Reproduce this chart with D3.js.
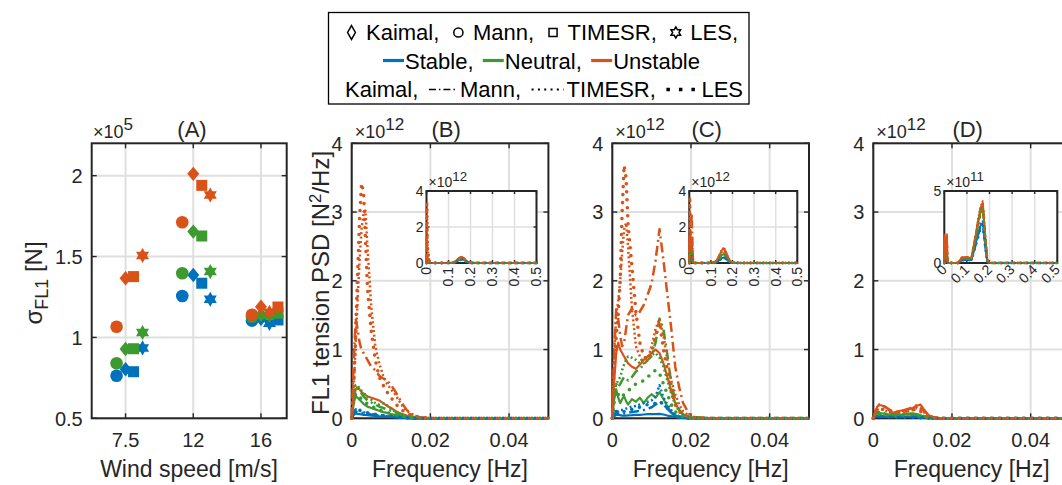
<!DOCTYPE html>
<html>
<head>
<meta charset="utf-8">
<script src="https://cdn.jsdelivr.net/npm/d3@7"></script>
<style>
  body { margin: 0; background: #fff; }
  text { font-family: "Liberation Sans", Arial, Helvetica, sans-serif; fill: #262626; }
</style>
</head>
<body>
<svg id="chart" width="1062" height="485"></svg>
<script>
// ---------- data ----------
const models = ["Kaimal", "Mann", "TIMESR", "LES"];
const stabilities = ["Stable", "Neutral", "Unstable"];
const windSpeeds = ["7.5", "12", "16"];

// std of FL1 tension [x1e5 N], rows = wind speed, cols = model
const sigmaStable   = [[0.803, 0.763, 0.788, 0.935], [1.386, 1.256, 1.335, 1.236], [1.115, 1.104, 1.108, 1.087]];
const sigmaNeutral  = [[0.929, 0.840, 0.930, 1.030], [1.654, 1.397, 1.627, 1.407], [1.140, 1.128, 1.150, 1.135]];
const sigmaUnstable = [[1.366, 1.066, 1.376, 1.506], [2.011, 1.712, 1.940, 1.880], [1.190, 1.140, 1.188, 1.155]];

// PSD frequency grids [Hz]
const freqLow  = [0, 0.0005, 0.001, 0.0015, 0.002, 0.0025, 0.003, 0.0035, 0.004, 0.005, 0.006, 0.007, 0.008, 0.009,
                  0.010, 0.011, 0.012, 0.013, 0.014, 0.015, 0.016, 0.017, 0.018, 0.020, 0.025, 0.030, 0.040, 0.050];
const freqHigh = [0.06, 0.08, 0.10, 0.12, 0.13, 0.14, 0.15, 0.16, 0.17, 0.18, 0.19, 0.20, 0.25, 0.30, 0.40, 0.50];

// PSD [x1e12 N^2/Hz] on freqLow, rows = Kaimal, Mann, TIMESR, LES
const psd75Stable = [
  [0, 0.05, 0.07, 0.065, 0.06, 0.055, 0.05, 0.048, 0.045, 0.04, 0.035, 0.03, 0.025, 0.02, 0.018, 0.015, 0.01, 0.008, 0.005, 0.003, 0, 0, 0, 0, 0, 0, 0, 0],
  [0, 0.07, 0.1, 0.09, 0.085, 0.08, 0.075, 0.07, 0.065, 0.055, 0.048, 0.04, 0.035, 0.03, 0.025, 0.02, 0.015, 0.01, 0.006, 0.003, 0, 0, 0, 0, 0, 0, 0, 0],
  [0, 0.09, 0.13, 0.12, 0.11, 0.1, 0.09, 0.08, 0.07, 0.06, 0.05, 0.045, 0.04, 0.03, 0.025, 0.02, 0.015, 0.01, 0.006, 0.003, 0, 0, 0, 0, 0, 0, 0, 0],
  [0, 0.1, 0.15, 0.14, 0.12, 0.11, 0.1, 0.09, 0.08, 0.07, 0.06, 0.05, 0.04, 0.035, 0.03, 0.02, 0.015, 0.01, 0.006, 0.003, 0, 0, 0, 0, 0, 0, 0, 0]
];
const psd75Neutral = [
  [0, 0.22, 0.32, 0.3, 0.27, 0.24, 0.21, 0.19, 0.17, 0.15, 0.13, 0.11, 0.09, 0.08, 0.06, 0.05, 0.04, 0.03, 0.02, 0.01, 0.005, 0, 0, 0, 0, 0, 0, 0],
  [0, 0.3, 0.46, 0.44, 0.4, 0.36, 0.32, 0.29, 0.26, 0.23, 0.2, 0.17, 0.15, 0.13, 0.11, 0.09, 0.07, 0.05, 0.03, 0.02, 0.01, 0.005, 0, 0, 0, 0, 0, 0],
  [0, 0.32, 0.48, 0.47, 0.44, 0.4, 0.37, 0.34, 0.31, 0.27, 0.22, 0.2, 0.22, 0.19, 0.14, 0.1, 0.07, 0.05, 0.03, 0.02, 0.01, 0.005, 0, 0, 0, 0, 0, 0],
  [0, 0.25, 0.36, 0.34, 0.31, 0.28, 0.26, 0.23, 0.21, 0.18, 0.15, 0.12, 0.1, 0.08, 0.07, 0.05, 0.04, 0.03, 0.02, 0.01, 0.005, 0, 0, 0, 0, 0, 0, 0]
];
const psd75Unstable = [
  [0, 0.25, 0.42, 0.45, 0.42, 0.38, 0.36, 0.34, 0.32, 0.3, 0.28, 0.26, 0.22, 0.18, 0.15, 0.11, 0.08, 0.06, 0.04, 0.03, 0.02, 0.01, 0.005, 0, 0, 0, 0, 0],
  [0, 0.8, 1.45, 1.3, 1.1, 1.0, 0.95, 0.9, 0.85, 0.75, 0.7, 0.62, 0.58, 0.55, 0.48, 0.4, 0.3, 0.2, 0.12, 0.07, 0.04, 0.02, 0.01, 0, 0, 0, 0, 0],
  [0, 0.4, 1.1, 1.7, 2.3, 2.75, 2.98, 3.02, 2.5, 1.6, 1.05, 0.8, 0.62, 0.5, 0.42, 0.35, 0.26, 0.17, 0.11, 0.07, 0.04, 0.02, 0.01, 0, 0, 0, 0, 0],
  [0, 0.45, 1.2, 2.1, 2.9, 3.42, 3.3, 2.6, 1.9, 1.25, 0.85, 0.6, 0.48, 0.38, 0.3, 0.22, 0.16, 0.11, 0.07, 0.05, 0.03, 0.02, 0.01, 0, 0, 0, 0, 0]
];
const psd12Stable = [
  [0, 0.03, 0.05, 0.05, 0.045, 0.04, 0.04, 0.04, 0.042, 0.045, 0.05, 0.05, 0.055, 0.06, 0.06, 0.062, 0.065, 0.055, 0.04, 0.03, 0.02, 0.01, 0.005, 0, 0, 0, 0, 0],
  [0, 0.05, 0.08, 0.07, 0.065, 0.065, 0.07, 0.075, 0.08, 0.09, 0.1, 0.11, 0.12, 0.14, 0.16, 0.2, 0.25, 0.2, 0.14, 0.08, 0.04, 0.02, 0.01, 0, 0, 0, 0, 0],
  [0, 0.08, 0.1, 0.1, 0.12, 0.12, 0.13, 0.14, 0.15, 0.17, 0.18, 0.2, 0.22, 0.24, 0.26, 0.32, 0.48, 0.3, 0.2, 0.12, 0.06, 0.03, 0.01, 0, 0, 0, 0, 0],
  [0, 0.06, 0.1, 0.09, 0.09, 0.1, 0.1, 0.11, 0.12, 0.13, 0.15, 0.16, 0.18, 0.2, 0.2, 0.22, 0.25, 0.2, 0.15, 0.08, 0.04, 0.02, 0.01, 0, 0, 0, 0, 0]
];
const psd12Neutral = [
  [0, 0.3, 0.42, 0.3, 0.22, 0.28, 0.32, 0.25, 0.2, 0.28, 0.24, 0.3, 0.22, 0.3, 0.35, 0.3, 0.38, 0.28, 0.17, 0.09, 0.04, 0.02, 0.01, 0, 0, 0, 0, 0],
  [0, 0.3, 0.5, 0.45, 0.5, 0.55, 0.6, 0.58, 0.55, 0.6, 0.68, 0.72, 0.78, 0.85, 0.9, 1.1, 1.45, 1.3, 0.92, 0.5, 0.27, 0.12, 0.05, 0.01, 0, 0, 0, 0],
  [0, 0.35, 0.5, 0.55, 0.6, 0.7, 0.78, 0.85, 0.9, 0.88, 0.85, 0.8, 0.88, 0.9, 0.92, 0.95, 0.88, 0.75, 0.55, 0.35, 0.2, 0.1, 0.05, 0.01, 0, 0, 0, 0],
  [0, 0.25, 0.4, 0.35, 0.3, 0.32, 0.35, 0.38, 0.4, 0.45, 0.5, 0.52, 0.55, 0.6, 0.65, 0.7, 0.65, 0.5, 0.35, 0.2, 0.1, 0.05, 0.02, 0, 0, 0, 0, 0]
];
const psd12Unstable = [
  [0, 0.55, 0.95, 1.1, 1.0, 0.95, 0.9, 0.85, 0.8, 0.75, 0.72, 0.78, 0.85, 0.9, 0.95, 1.0, 0.95, 0.8, 0.6, 0.4, 0.22, 0.12, 0.06, 0.01, 0, 0, 0, 0],
  [0, 1.0, 1.6, 1.45, 1.2, 1.05, 1.1, 1.3, 1.5, 1.6, 1.5, 1.55, 1.65, 1.8, 1.96, 2.3, 2.75, 2.3, 1.8, 1.3, 0.75, 0.45, 0.22, 0.02, 0, 0, 0, 0],
  [0, 0.9, 1.5, 1.7, 2.0, 2.4, 2.75, 2.84, 2.5, 1.6, 1.05, 0.9, 0.8, 0.85, 1.05, 1.3, 1.45, 1.2, 0.85, 0.55, 0.35, 0.2, 0.1, 0.02, 0, 0, 0, 0],
  [0, 0.8, 1.2, 1.5, 2.0, 3.0, 3.68, 3.5, 2.83, 2.2, 1.55, 1.1, 0.9, 0.85, 0.95, 1.2, 1.4, 1.0, 0.7, 0.4, 0.2, 0.1, 0.05, 0.01, 0, 0, 0, 0]
];
const psd16Stable = [
  [0, 0.02, 0.03, 0.03, 0.03, 0.03, 0.03, 0.025, 0.025, 0.02, 0.02, 0.02, 0.02, 0.02, 0.02, 0.02, 0.015, 0.01, 0.005, 0, 0, 0, 0, 0, 0, 0, 0, 0],
  [0, 0.025, 0.035, 0.035, 0.03, 0.03, 0.03, 0.03, 0.025, 0.025, 0.02, 0.02, 0.02, 0.025, 0.025, 0.02, 0.015, 0.01, 0.005, 0, 0, 0, 0, 0, 0, 0, 0, 0],
  [0, 0.02, 0.03, 0.03, 0.03, 0.025, 0.025, 0.025, 0.02, 0.02, 0.02, 0.02, 0.02, 0.02, 0.02, 0.015, 0.01, 0.008, 0.004, 0, 0, 0, 0, 0, 0, 0, 0, 0],
  [0, 0.02, 0.025, 0.025, 0.025, 0.02, 0.02, 0.02, 0.02, 0.02, 0.015, 0.015, 0.015, 0.015, 0.015, 0.012, 0.01, 0.006, 0.003, 0, 0, 0, 0, 0, 0, 0, 0, 0]
];
const psd16Neutral = [
  [0, 0.05, 0.08, 0.08, 0.07, 0.07, 0.06, 0.06, 0.05, 0.05, 0.05, 0.05, 0.06, 0.06, 0.06, 0.05, 0.04, 0.03, 0.02, 0.01, 0, 0, 0, 0, 0, 0, 0, 0],
  [0, 0.06, 0.09, 0.09, 0.08, 0.08, 0.07, 0.07, 0.06, 0.06, 0.06, 0.06, 0.07, 0.07, 0.07, 0.06, 0.05, 0.03, 0.02, 0.01, 0, 0, 0, 0, 0, 0, 0, 0],
  [0, 0.05, 0.07, 0.07, 0.07, 0.06, 0.06, 0.05, 0.05, 0.05, 0.05, 0.05, 0.05, 0.06, 0.05, 0.05, 0.04, 0.03, 0.02, 0.01, 0, 0, 0, 0, 0, 0, 0, 0],
  [0, 0.04, 0.06, 0.06, 0.06, 0.05, 0.05, 0.05, 0.04, 0.04, 0.04, 0.04, 0.05, 0.05, 0.05, 0.04, 0.03, 0.02, 0.01, 0.005, 0, 0, 0, 0, 0, 0, 0, 0]
];
const psd16Unstable = [
  [0, 0.08, 0.17, 0.19, 0.19, 0.18, 0.16, 0.15, 0.12, 0.08, 0.1, 0.11, 0.12, 0.13, 0.15, 0.18, 0.2, 0.12, 0.05, 0.02, 0.01, 0, 0, 0, 0, 0, 0, 0],
  [0, 0.1, 0.18, 0.2, 0.19, 0.18, 0.17, 0.15, 0.13, 0.1, 0.09, 0.1, 0.12, 0.14, 0.16, 0.19, 0.15, 0.1, 0.05, 0.02, 0.01, 0, 0, 0, 0, 0, 0, 0],
  [0, 0.07, 0.12, 0.14, 0.13, 0.12, 0.11, 0.1, 0.09, 0.08, 0.07, 0.08, 0.1, 0.1, 0.12, 0.15, 0.12, 0.08, 0.04, 0.02, 0.01, 0, 0, 0, 0, 0, 0, 0],
  [0, 0.08, 0.13, 0.15, 0.14, 0.13, 0.12, 0.11, 0.1, 0.09, 0.08, 0.09, 0.1, 0.11, 0.12, 0.14, 0.1, 0.06, 0.03, 0.01, 0, 0, 0, 0, 0, 0, 0, 0]
];

// PSD [x1e12 N^2/Hz] on freqHigh (wave band), rows = Kaimal, Mann, TIMESR, LES
const hf75Stable = [
  [0, 0, 0, 0.01, 0.05, 0.12, 0.19, 0.22, 0.18, 0.09, 0.03, 0, 0, 0, 0, 0],
  [0, 0, 0, 0.01, 0.05, 0.11, 0.18, 0.21, 0.17, 0.08, 0.03, 0, 0, 0, 0, 0],
  [0, 0, 0, 0.01, 0.05, 0.12, 0.2, 0.23, 0.18, 0.09, 0.03, 0, 0, 0, 0, 0],
  [0, 0, 0, 0.01, 0.04, 0.1, 0.17, 0.2, 0.16, 0.08, 0.02, 0, 0, 0, 0, 0]
];
const hf75Neutral = [
  [0, 0, 0, 0.01, 0.06, 0.14, 0.22, 0.26, 0.21, 0.1, 0.03, 0.01, 0, 0, 0, 0],
  [0, 0, 0, 0.01, 0.05, 0.13, 0.21, 0.25, 0.2, 0.1, 0.03, 0.01, 0, 0, 0, 0],
  [0, 0, 0, 0.01, 0.06, 0.14, 0.23, 0.27, 0.21, 0.1, 0.03, 0.01, 0, 0, 0, 0],
  [0, 0, 0, 0.01, 0.05, 0.12, 0.2, 0.24, 0.19, 0.09, 0.03, 0, 0, 0, 0, 0]
];
const hf75Unstable = [
  [0, 0, 0.01, 0.02, 0.08, 0.2, 0.3, 0.35, 0.28, 0.14, 0.05, 0.01, 0, 0, 0, 0],
  [0, 0, 0.01, 0.02, 0.07, 0.18, 0.28, 0.32, 0.26, 0.12, 0.04, 0.01, 0, 0, 0, 0],
  [0, 0, 0.01, 0.02, 0.08, 0.19, 0.29, 0.33, 0.27, 0.13, 0.05, 0.01, 0, 0, 0, 0],
  [0, 0, 0.01, 0.02, 0.06, 0.16, 0.25, 0.3, 0.24, 0.11, 0.04, 0.01, 0, 0, 0, 0]
];
const hf12Stable = [
  [0, 0, 0, 0.02, 0.08, 0.18, 0.27, 0.3, 0.24, 0.11, 0.04, 0, 0, 0, 0, 0],
  [0, 0, 0, 0.02, 0.08, 0.17, 0.26, 0.29, 0.23, 0.1, 0.03, 0, 0, 0, 0, 0],
  [0, 0, 0, 0.02, 0.09, 0.19, 0.28, 0.32, 0.25, 0.12, 0.04, 0, 0, 0, 0, 0],
  [0, 0, 0, 0.02, 0.07, 0.16, 0.24, 0.27, 0.22, 0.1, 0.03, 0, 0, 0, 0, 0]
];
const hf12Neutral = [
  [0, 0, 0.01, 0.04, 0.15, 0.3, 0.45, 0.5, 0.4, 0.2, 0.06, 0.01, 0, 0, 0, 0],
  [0, 0, 0.01, 0.04, 0.14, 0.28, 0.43, 0.48, 0.38, 0.19, 0.06, 0.01, 0, 0, 0, 0],
  [0, 0, 0.01, 0.05, 0.16, 0.32, 0.48, 0.55, 0.42, 0.21, 0.07, 0.01, 0, 0, 0, 0],
  [0, 0, 0.01, 0.04, 0.13, 0.27, 0.4, 0.46, 0.36, 0.18, 0.05, 0.01, 0, 0, 0, 0]
];
const hf12Unstable = [
  [0, 0, 0.01, 0.05, 0.2, 0.45, 0.7, 0.82, 0.6, 0.3, 0.1, 0.02, 0, 0, 0, 0],
  [0, 0, 0.01, 0.05, 0.19, 0.42, 0.66, 0.78, 0.57, 0.28, 0.09, 0.02, 0, 0, 0, 0],
  [0, 0, 0.01, 0.06, 0.21, 0.47, 0.73, 0.88, 0.63, 0.31, 0.1, 0.02, 0, 0, 0, 0],
  [0, 0, 0.01, 0.05, 0.18, 0.4, 0.63, 0.75, 0.55, 0.27, 0.09, 0.02, 0, 0, 0, 0]
];
const hf16Stable = [
  [0, 0.02, 0.02, 0.02, 0.08, 0.14, 0.2, 0.26, 0.28, 0.14, 0.01, 0, 0, 0, 0, 0],
  [0, 0.02, 0.02, 0.02, 0.07, 0.13, 0.19, 0.25, 0.27, 0.13, 0.01, 0, 0, 0, 0, 0],
  [0, 0.02, 0.02, 0.02, 0.08, 0.15, 0.21, 0.27, 0.29, 0.15, 0.01, 0, 0, 0, 0, 0],
  [0, 0.02, 0.02, 0.02, 0.07, 0.13, 0.18, 0.24, 0.26, 0.13, 0.01, 0, 0, 0, 0, 0]
];
const hf16Neutral = [
  [0, 0.03, 0.03, 0.03, 0.11, 0.19, 0.28, 0.36, 0.41, 0.2, 0.02, 0, 0, 0, 0, 0],
  [0, 0.03, 0.03, 0.03, 0.1, 0.18, 0.27, 0.35, 0.4, 0.19, 0.02, 0, 0, 0, 0, 0],
  [0, 0.03, 0.03, 0.03, 0.11, 0.2, 0.29, 0.37, 0.42, 0.2, 0.02, 0, 0, 0, 0, 0],
  [0, 0.03, 0.03, 0.03, 0.1, 0.18, 0.26, 0.34, 0.39, 0.19, 0.02, 0, 0, 0, 0, 0]
];
const hf16Unstable = [
  [0, 0.04, 0.04, 0.03, 0.12, 0.2, 0.3, 0.38, 0.42, 0.2, 0.02, 0, 0, 0, 0, 0],
  [0, 0.04, 0.04, 0.03, 0.11, 0.19, 0.29, 0.37, 0.41, 0.19, 0.02, 0, 0, 0, 0, 0],
  [0, 0.04, 0.04, 0.03, 0.12, 0.21, 0.31, 0.39, 0.43, 0.21, 0.02, 0, 0, 0, 0, 0],
  [0, 0.04, 0.04, 0.03, 0.11, 0.19, 0.28, 0.36, 0.4, 0.19, 0.02, 0, 0, 0, 0, 0]
];

// ---------- style / layout ----------
const colors = { Stable: "#0072BD", Neutral: "#3C9A2F", Unstable: "#D95319" };
const axisColor = "#262626";
const gridColor = "#DFDFDF";
const tickFont = 20, xlabFont = 23, ylabFont = 24, titleFont = 22, legendFont = 22;
const insetTickFont = 14;

const axTop = 143.3, axBottom = 418.3;
const lineStyle = {
  Kaimal: { width: 2.2, dash: null,        cap: "butt" },
  Mann:   { width: 2.5, dash: "10,4,2,4",  cap: "butt" },
  TIMESR: { width: 2.5, dash: "2,2.5",     cap: "butt" },
  LES:    { width: 3.6, dash: "0,8",       cap: "round" }
};
// horizontal marker shift in panel A [px], per wind speed, per model
const markerShift = [[0, -9, 8, 17], [0, -11, 8.5, 17], [0, -9, 17, 8.5]];

const svg = d3.select("#chart");

// ---------- helpers ----------
function star6(r) {
  const pts = d3.range(12).map(i => {
    const a = Math.PI / 6 * i - Math.PI / 2;
    const rr = i % 2 ? r / Math.sqrt(3) : r;
    return [rr * Math.cos(a), rr * Math.sin(a)];
  });
  return "M" + pts.join("L") + "Z";
}

function markerPath(model, s, tall = 1.15, wide = 0.95) {
  if (model === "Kaimal") return `M0,${-s * tall}L${s * wide},0L0,${s * tall}L${-s * wide},0Z`;
  if (model === "Mann") return d3.symbol(d3.symbolCircle, Math.PI * s * s)();
  if (model === "TIMESR") return d3.symbol(d3.symbolSquare, (1.75 * s) ** 2)();
  return star6(s * 1.2);
}

function drawGrid(g, x, y, xt, yt, width) {
  g.append("g").selectAll("line").data(xt).join("line")
    .attr("x1", d => x(d)).attr("x2", d => x(d))
    .attr("y1", y.range()[0]).attr("y2", y.range()[1])
    .attr("stroke", gridColor).attr("stroke-width", width);
  g.append("g").selectAll("line").data(yt).join("line")
    .attr("y1", d => y(d)).attr("y2", d => y(d))
    .attr("x1", x.range()[0]).attr("x2", x.range()[1])
    .attr("stroke", gridColor).attr("stroke-width", width);
}

function drawBox(g, x, y, xt, yt, tick, sw) {
  const [x0, x1] = x.range(), [y0, y1] = y.range();
  g.append("rect")
    .attr("x", x0).attr("y", y1).attr("width", x1 - x0).attr("height", y0 - y1)
    .attr("fill", "none").attr("stroke", axisColor).attr("stroke-width", sw);
  const ticks = g.append("g").attr("stroke", axisColor).attr("stroke-width", sw * 0.7);
  ticks.selectAll(".tb").data(xt).join("line")
    .attr("x1", d => x(d)).attr("x2", d => x(d)).attr("y1", y0).attr("y2", y0 - tick);
  ticks.selectAll(".tt").data(xt).join("line")
    .attr("x1", d => x(d)).attr("x2", d => x(d)).attr("y1", y1).attr("y2", y1 + tick);
  ticks.selectAll(".tl").data(yt).join("line")
    .attr("y1", d => y(d)).attr("y2", d => y(d)).attr("x1", x0).attr("x2", x0 + tick);
  ticks.selectAll(".tr").data(yt).join("line")
    .attr("y1", d => y(d)).attr("y2", d => y(d)).attr("x1", x1).attr("x2", x1 - tick);
}

function yTickLabels(g, x, y, yt, fmt, size, pad) {
  g.append("g").selectAll("text").data(yt).join("text")
    .attr("x", x.range()[0] - pad).attr("y", d => y(d))
    .attr("dy", "0.36em").attr("text-anchor", "end")
    .style("font-size", size + "px")
    .text(fmt);
}

function expLabel(g, xPos, yPos, exp, size) {
  const t = g.append("text").attr("x", xPos).attr("y", yPos).style("font-size", size + "px");
  t.append("tspan").text("\u00D710");
  t.append("tspan").attr("dy", -size * 0.42).style("font-size", (size * 0.95) + "px").text(exp);
}

function seriesPoints(low, high) {
  return freqLow.map((f, i) => [f, low[i]]).concat(freqHigh.map((f, i) => [f, high[i]]));
}

function drawSeries(g, x, y, lowSet, highSet, maxF, scaleW) {
  const line = d3.line().x(d => x(d[0])).y(d => y(d[1]));
  models.forEach((m, mi) => {
    stabilities.forEach(st => {
      const pts = seriesPoints(lowSet[st][mi], highSet[st][mi]).filter(d => d[0] <= maxF);
      const ls = lineStyle[m];
      g.append("path")
        .attr("d", line(pts))
        .attr("fill", "none")
        .attr("stroke", colors[st])
        .attr("stroke-width", ls.width * scaleW)
        .attr("stroke-dasharray", ls.dash ? ls.dash.split(",").map(v => +v * scaleW).join(",") : null)
        .attr("stroke-linecap", ls.cap)
        .attr("stroke-linejoin", "round");
    });
  });
}

// ---------- panel A ----------
const gA = svg.append("g");
const xA = d3.scaleLinear().domain([0.5, 3.38]).range([91.7, 286.7]);
const yA = d3.scaleLinear().domain([0.5, 2.2]).range([axBottom, axTop]);
const xtA = [1, 2, 3], ytA = [0.5, 1, 1.5, 2];

drawGrid(gA, xA, yA, xtA, ytA, 2);

const sigmaSets = { Stable: sigmaStable, Neutral: sigmaNeutral, Unstable: sigmaUnstable };
stabilities.forEach(st => {
  windSpeeds.forEach((ws, wi) => {
    models.forEach((m, mi) => {
      gA.append("path")
        .attr("d", markerPath(m, 6.3))
        .attr("transform", `translate(${xA(wi + 1) + markerShift[wi][mi]},${yA(sigmaSets[st][wi][mi])})`)
        .attr("fill", colors[st]);
    });
  });
});

drawBox(gA, xA, yA, xtA, ytA, 5, 2);
yTickLabels(gA, xA, yA, ytA, d => d, tickFont, 9);
gA.append("g").selectAll("text").data(xtA).join("text")
  .attr("x", d => xA(d)).attr("y", 447)
  .attr("text-anchor", "middle").style("font-size", tickFont + "px")
  .text((d, i) => windSpeeds[i]);
gA.append("text").attr("x", 189).attr("y", 477).attr("text-anchor", "middle")
  .style("font-size", xlabFont + "px").text("Wind speed [m/s]");
const ylA = gA.append("text")
  .attr("transform", "translate(42,283) rotate(-90)")
  .attr("text-anchor", "middle").style("font-size", ylabFont + "px");
ylA.append("tspan").text("\u03C3");
ylA.append("tspan").attr("dy", 6).style("font-size", (ylabFont * 0.75) + "px").text("FL1");
ylA.append("tspan").attr("dy", -6).text(" [N]");
gA.append("text").attr("x", 192).attr("y", 137).attr("text-anchor", "middle")
  .style("font-size", titleFont + "px").text("(A)");
expLabel(gA, 93, 138, "5", 18);

// ---------- PSD panels ----------
const psdPanels = [
  { title: "(B)", left: 351.7, low: { Stable: psd75Stable, Neutral: psd75Neutral, Unstable: psd75Unstable },
    high: { Stable: hf75Stable, Neutral: hf75Neutral, Unstable: hf75Unstable },
    inset: { left: 426.5, width: 110, yMax: 4, yTicks: [0, 2, 4], fmt: d => d, exp: "12", rot: -90 } },
  { title: "(C)", left: 612.3, low: { Stable: psd12Stable, Neutral: psd12Neutral, Unstable: psd12Unstable },
    high: { Stable: hf12Stable, Neutral: hf12Neutral, Unstable: hf12Unstable },
    inset: { left: 689.3, width: 108, yMax: 4, yTicks: [0, 2, 4], fmt: d => d, exp: "12", rot: -90 } },
  { title: "(D)", left: 873.3, low: { Stable: psd16Stable, Neutral: psd16Neutral, Unstable: psd16Unstable },
    high: { Stable: hf16Stable, Neutral: hf16Neutral, Unstable: hf16Unstable },
    inset: { left: 944.3, width: 113, yMax: 0.5, yTicks: [0, 0.5], fmt: d => d * 10, exp: "11", rot: -45 } }
];
const psdW = 196.7;
const xtP = [0, 0.02, 0.04], ytP = [0, 1, 2, 3, 4];
const insetTop = 191, insetBottom = 263;
const xtI = [0, 0.1, 0.2, 0.3, 0.4, 0.5];

psdPanels.forEach((p, pi) => {
  const g = svg.append("g");
  const x = d3.scaleLinear().domain([0, 0.05]).range([p.left, p.left + psdW]);
  const y = d3.scaleLinear().domain([0, 4]).range([axBottom, axTop]);

  drawGrid(g, x, y, xtP, ytP, 2);
  drawBox(g, x, y, xtP, ytP, 5, 2);
  drawSeries(g, x, y, p.low, p.high, 0.05, 1);
  yTickLabels(g, x, y, ytP, d => d, tickFont, 9);
  g.append("g").selectAll("text").data(xtP).join("text")
    .attr("x", d => x(d)).attr("y", 447)
    .attr("text-anchor", "middle").style("font-size", tickFont + "px")
    .text(d => d);
  g.append("text").attr("x", p.left + psdW / 2).attr("y", 477).attr("text-anchor", "middle")
    .style("font-size", xlabFont + "px").text("Frequency [Hz]");
  g.append("text").attr("x", p.left + psdW / 2 - 4).attr("y", 137).attr("text-anchor", "middle")
    .style("font-size", titleFont + "px").text(p.title);
  expLabel(g, p.left + 3, 138, "12", 18);
  if (pi === 0) {
    const yl = g.append("text")
      .attr("transform", `translate(329,283) rotate(-90)`)
      .attr("text-anchor", "middle").style("font-size", ylabFont + "px");
    yl.append("tspan").text("FL1 tension PSD [N");
    yl.append("tspan").attr("dy", -8).style("font-size", (ylabFont * 0.7) + "px").text("2");
    yl.append("tspan").attr("dy", 8).text("/Hz]");
  }

  // inset
  const ic = p.inset;
  const gi = g.append("g");
  const xi = d3.scaleLinear().domain([0, 0.5]).range([ic.left, ic.left + ic.width]);
  const yi = d3.scaleLinear().domain([0, ic.yMax]).range([insetBottom, insetTop]);
  gi.append("rect").attr("x", ic.left).attr("y", insetTop)
    .attr("width", ic.width).attr("height", insetBottom - insetTop).attr("fill", "#fff");
  drawGrid(gi, xi, yi, xtI, ic.yTicks, 1.5);
  drawBox(gi, xi, yi, xtI, ic.yTicks, 3, 2);
  drawSeries(gi, xi, yi, p.low, p.high, 0.5, 0.8);
  yTickLabels(gi, xi, yi, ic.yTicks, ic.fmt, insetTickFont, 3);
  gi.append("g").selectAll("text").data(xtI).join("text")
    .attr("transform", d => `translate(${xi(d)},${insetBottom + 4}) rotate(${ic.rot})`)
    .attr("text-anchor", "end").attr("dy", "0.35em")
    .style("font-size", insetTickFont + "px")
    .text(d => d);
  expLabel(gi, ic.left + 2, insetTop - 4, ic.exp, 14);
});

// ---------- legend ----------
const legend = svg.append("g");
legend.append("rect").attr("x", 328.5).attr("y", 12.5).attr("width", 420.5).attr("height", 91.5)
  .attr("fill", "#fff").attr("stroke", "#000").attr("stroke-width", 1.3);

// each row: items and horizontal extent in the reference
const legendRows = [
  { span: [346, 738], base: 40,
    items: [{ mark: "Kaimal" }, { text: "Kaimal," }, { mark: "Mann" }, { text: "Mann," },
            { mark: "TIMESR" }, { text: "TIMESR," }, { mark: "LES" }, { text: "LES," }] },
  { span: [383, 700], base: 68.5,
    items: [{ swatch: "Stable" }, { text: "Stable," }, { swatch: "Neutral" }, { text: "Neutral," },
            { swatch: "Unstable" }, { text: "Unstable" }] },
  { span: [345, 743], base: 96.5,
    items: [{ text: "Kaimal," }, { dash: "Mann" }, { text: "Mann," }, { dash: "TIMESR" }, { text: "TIMESR," },
            { dash: "LES" }, { text: "LES" }] }
];
const legendDash = {
  Mann:   { dash: "7,3,1.5,3", width: 1.6, len: 28 },
  TIMESR: { dash: "2,4.3",     width: 2,   len: 32 },
  LES:    { dash: "3.5,9",     width: 3.5, len: 32 }
};

legendRows.forEach(row => {
  const rg = legend.append("g").attr("transform", `translate(0,${row.base})`);
  const parts = row.items.map(it => {
    if (it.text) {
      const t = rg.append("text").attr("y", 0).style("font-size", legendFont + "px")
        .style("fill", "#000").text(it.text);
      return { node: t, w: t.node().getComputedTextLength(), kind: "text" };
    }
    if (it.mark) {
      const pth = rg.append("path").attr("d", markerPath(it.mark, 4.6, 1.5, 0.85))
        .attr("fill", "none").attr("stroke", "#000").attr("stroke-width", 1.5);
      return { node: pth, w: 11, kind: "mark" };
    }
    if (it.swatch) {
      const l = rg.append("line").attr("y1", -8).attr("y2", -8)
        .attr("stroke", colors[it.swatch]).attr("stroke-width", 3.2);
      return { node: l, w: 21, kind: "swatch" };
    }
    const ld = legendDash[it.dash];
    const l = rg.append("line").attr("y1", -7).attr("y2", -7)
      .attr("stroke", "#000").attr("stroke-width", ld.width).attr("stroke-dasharray", ld.dash);
    return { node: l, w: ld.len, kind: "dash" };
  });
  // gap after a text item stretches to fill the row; symbol -> text gap is fixed
  const gaps = parts.slice(0, -1).map(p => {
    if (p.kind === "text") return { w: 6, s: true };
    if (p.kind === "mark") return { w: 9, s: false };
    if (p.kind === "swatch") return { w: 1, s: false };
    return { w: 3, s: false };
  });
  const natural = d3.sum(parts, p => p.w) + d3.sum(gaps, g => g.w);
  const extra = (row.span[1] - row.span[0] - natural) / gaps.filter(g => g.s).length;
  let cx = row.span[0];
  parts.forEach((p, i) => {
    if (p.kind === "text") p.node.attr("x", cx);
    else if (p.kind === "mark") p.node.attr("transform", `translate(${cx + p.w / 2},-7.5)`);
    else p.node.attr("x1", cx).attr("x2", cx + p.w);
    cx += p.w;
    if (i < gaps.length) cx += gaps[i].w + (gaps[i].s ? extra : 0);
  });
});
</script>
</body>
</html>
